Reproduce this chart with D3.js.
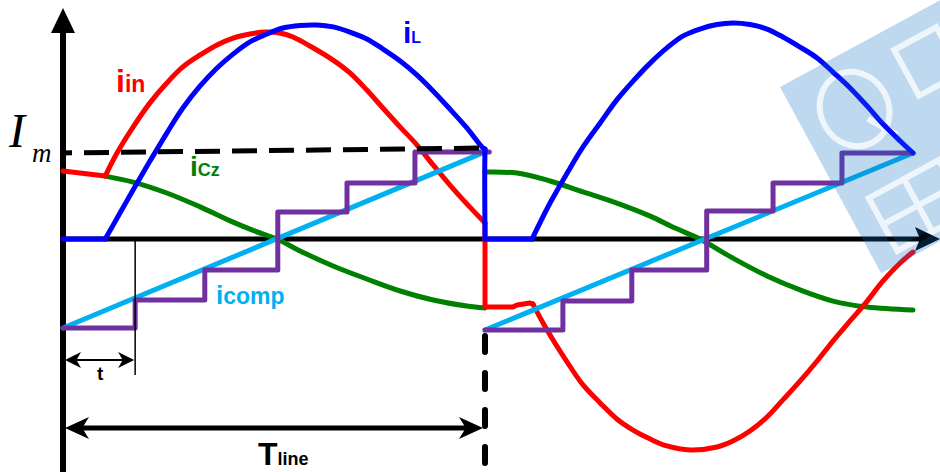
<!DOCTYPE html>
<html>
<head>
<meta charset="utf-8">
<script src="https://cdn.jsdelivr.net/npm/d3@7"></script>
<style>
  html, body { margin: 0; padding: 0; background: #fff; overflow: hidden; }
  svg { display: block; }
</style>
</head>
<body>
<svg id="chart" width="940" height="472"></svg>
<script>
// Time is measured in line periods (Tline = 1), currents are normalised to the peak of iL.

// Inductor current iL
const iLIdle1 = [[0, 0], [0.1, 0]];
const iLArc1 = [[0.1, 0], [0.135, 0.121], [0.166, 0.229], [0.206, 0.364], [0.246, 0.495], [0.284, 0.612],
  [0.325, 0.715], [0.365, 0.799], [0.403, 0.864], [0.443, 0.921], [0.483, 0.958], [0.521, 0.986],
  [0.562, 0.998], [0.602, 1.0], [0.640, 0.991], [0.680, 0.967], [0.720, 0.935], [0.758, 0.888],
  [0.799, 0.832], [0.839, 0.766], [0.877, 0.692], [0.917, 0.607], [0.957, 0.519], [0.993, 0.430], [1.0, 0.42]];
const iLReset = [[1.0, 0.42], [0.999, 0.31], [1.0, 0]];
const iLIdle2 = [[1.0, 0], [1.11, 0]];
const iLArc2 = [[1.11, 0], [1.152, 0.168], [1.192, 0.308], [1.229, 0.430], [1.269, 0.542], [1.308, 0.650],
  [1.346, 0.738], [1.386, 0.822], [1.425, 0.893], [1.463, 0.949], [1.502, 0.981], [1.542, 1.002],
  [1.579, 1.009], [1.619, 1.002], [1.659, 0.981], [1.696, 0.944], [1.736, 0.897], [1.776, 0.846],
  [1.813, 0.780], [1.853, 0.706], [1.893, 0.621], [1.930, 0.537], [1.970, 0.458], [2.0, 0.402]];

// Input current iin
const iinHold1 = [[0, 0.318], [0.1, 0.294]];
const iinArc1 = [[0.1, 0.294], [0.128, 0.402], [0.166, 0.523], [0.206, 0.636], [0.246, 0.729], [0.284, 0.804],
  [0.325, 0.860], [0.365, 0.907], [0.403, 0.939], [0.443, 0.958], [0.479, 0.967], [0.514, 0.963],
  [0.545, 0.944], [0.585, 0.902], [0.640, 0.836], [0.680, 0.776], [0.720, 0.696], [0.758, 0.612],
  [0.799, 0.523], [0.839, 0.439], [0.877, 0.346], [0.917, 0.252], [0.957, 0.164], [1.0, 0.075]];
const iinHold2 = [[1.0, 0.075], [1.0, -0.318], [1.065, -0.318], [1.075, -0.308], [1.105, -0.299], [1.112, -0.304]];
const iinArc2 = [[1.112, -0.304], [1.145, -0.425], [1.192, -0.575], [1.229, -0.682], [1.269, -0.766],
  [1.308, -0.841], [1.346, -0.893], [1.386, -0.935], [1.425, -0.967], [1.479, -0.986], [1.542, -0.972],
  [1.579, -0.944], [1.619, -0.897], [1.659, -0.832], [1.696, -0.752], [1.736, -0.664], [1.776, -0.570],
  [1.813, -0.477], [1.853, -0.383], [1.893, -0.290], [1.930, -0.196], [1.970, -0.112], [2.0, -0.061]];

// Capacitor current iCz
const iCz1 = [[0.1, 0.294], [0.166, 0.266], [0.246, 0.215], [0.325, 0.150], [0.403, 0.079], [0.455, 0.037],
  [0.507, 0], [0.562, -0.056], [0.640, -0.126], [0.720, -0.187], [0.799, -0.243], [0.877, -0.285],
  [0.957, -0.313], [1.0, -0.322]];
const iCz2 = [[1.0, 0.313], [1.075, 0.308], [1.152, 0.271], [1.229, 0.220], [1.308, 0.168], [1.386, 0.107],
  [1.444, 0.051], [1.502, 0], [1.579, -0.089], [1.659, -0.173], [1.736, -0.238], [1.813, -0.290],
  [1.893, -0.318], [2.0, -0.332]];

// Compensation ramp icomp and its sampled staircase
const icomp1 = [[0, -0.416], [1.0, 0.407]];
const icomp2 = [[1.0, -0.425], [2.0, 0.402]];
const stairEdges1 = [0, 0.171, 0.336, 0.509, 0.673, 0.834, 1.01];
const stairLevels1 = [-0.416, -0.285, -0.145, 0.126, 0.262, 0.407];
const stairEdges2 = [1.0, 1.182, 1.343, 1.518, 1.673, 1.834, 2.0];
const stairLevels2 = [-0.425, -0.290, -0.145, 0.131, 0.262, 0.402];

// Peak reference Im
const imRef = [[0, 0.402], [1.0, 0.425]];

// ---------------------------------------------------------------------------
const W = 940, H = 472;
const svg = d3.select('#chart');
const x = d3.scaleLinear().domain([0, 1, 2]).range([63, 485, 913]);
const y = d3.scaleLinear().domain([-1, 1]).range([453, 25]);

const C = { iin: '#ff0000', iL: '#0000ff', iCz: '#008000', comp: '#00b0f0', stair: '#7030a0', ink: '#000000' };

const lineOf = curve => d3.line().x(d => x(d[0])).y(d => y(d[1])).curve(curve);
const smooth = lineOf(d3.curveCatmullRom.alpha(0.5));
const straight = lineOf(d3.curveLinear);
const stepped = lineOf(d3.curveStepAfter);
const bent = lineOf(d3.curveBasis);

function trace(g, pts, gen, color, w) {
  g.append('path').attr('d', gen(pts)).attr('fill', 'none').attr('stroke', color)
    .attr('stroke-width', w).attr('stroke-linejoin', 'round').attr('stroke-linecap', 'round');
}
function stairPoints(edges, levels) {
  return edges.map((e, i) => [e, levels[Math.min(i, levels.length - 1)]]);
}

// Axes
const axes = svg.append('g');
axes.append('line').attr('x1', x(0)).attr('x2', x(0)).attr('y1', 30).attr('y2', H)
  .attr('stroke', C.ink).attr('stroke-width', 6);
axes.append('path').attr('d', `M${x(0)},8 L${x(0) - 12},33 L${x(0) + 12},33 Z`).attr('fill', C.ink);
axes.append('line').attr('x1', x(0) - 3).attr('x2', 922).attr('y1', y(0)).attr('y2', y(0))
  .attr('stroke', C.ink).attr('stroke-width', 5);
axes.append('path').attr('d', `M940,${y(0)} L915,${y(0) - 12} L920,${y(0)} L915,${y(0) + 12} Z`).attr('fill', C.ink);

// Waveforms
const waves = svg.append('g');
trace(waves, iCz1, smooth, C.iCz, 5);
trace(waves, iCz2, smooth, C.iCz, 5);
trace(waves, iinHold1, straight, C.iin, 5);
trace(waves, iinArc1, smooth, C.iin, 5);
trace(waves, iinHold2, straight, C.iin, 5);
trace(waves, iinArc2, smooth, C.iin, 5);
trace(waves, icomp1, straight, C.comp, 5);
trace(waves, icomp2, straight, C.comp, 5);
trace(waves, stairPoints(stairEdges1, stairLevels1), stepped, C.stair, 5);
trace(waves, stairPoints(stairEdges2, stairLevels2), stepped, C.stair, 5);
trace(waves, iLIdle1, straight, C.iL, 5);
trace(waves, iLArc1, smooth, C.iL, 5);
trace(waves, iLReset, bent, C.iL, 5);
trace(waves, iLIdle2, straight, C.iL, 5);
trace(waves, iLArc2, smooth, C.iL, 5);

// Im reference (dashed)
svg.append('path').attr('d', straight(imRef)).attr('fill', 'none').attr('stroke', C.ink)
  .attr('stroke-width', 5).attr('stroke-dasharray', '25 12').attr('stroke-dashoffset', 16);

// Period boundary (dashed vertical)
svg.append('line').attr('x1', x(1)).attr('x2', x(1)).attr('y1', 336).attr('y2', H + 4)
  .attr('stroke', C.ink).attr('stroke-width', 6).attr('stroke-linecap', 'round')
  .attr('stroke-dasharray', '16 21');

// Dimension arrows
function arrowHead(g, tipX, tipY, dir, len, half) {
  const b = tipX - dir * len, n = tipX - dir * len * 0.72;
  g.append('path').attr('d', `M${tipX},${tipY} L${b},${tipY - half} L${n},${tipY} L${b},${tipY + half} Z`)
    .attr('fill', C.ink);
}
const dims = svg.append('g');
// sampling interval t
const tEnd = x(stairEdges1[1]);
dims.append('line').attr('x1', tEnd).attr('x2', tEnd).attr('y1', y(0)).attr('y2', 375)
  .attr('stroke', C.ink).attr('stroke-width', 1.5);
dims.append('line').attr('x1', x(0) + 6).attr('x2', tEnd - 6).attr('y1', 360).attr('y2', 360)
  .attr('stroke', C.ink).attr('stroke-width', 2.2);
arrowHead(dims, x(0) + 2, 360, -1, 16, 8);
arrowHead(dims, tEnd - 1, 360, 1, 16, 8);
// line period Tline
dims.append('line').attr('x1', x(0) + 10).attr('x2', x(1) - 10).attr('y1', 428).attr('y2', 428)
  .attr('stroke', C.ink).attr('stroke-width', 5);
arrowHead(dims, x(0) + 2, 428, -1, 24, 11);
arrowHead(dims, x(1) - 2, 428, 1, 24, 11);

// Labels
const sans = '"Liberation Sans", Arial, sans-serif';
function label(px, py, parts, color) {
  const t = svg.append('text').attr('x', px).attr('y', py).attr('fill', color)
    .attr('font-family', sans).attr('font-weight', 'bold');
  parts.forEach(([s, size]) => t.append('tspan').attr('font-size', size).text(s));
}
label(116, 92, [['i', 32], ['in', 23]], C.iin);
label(403, 43, [['i', 30], ['L', 16]], C.iL);
label(190, 176, [['i', 28], ['Cz', 18]], C.iCz);
label(216, 304, [['i', 26], ['comp', 23]], C.comp);
label(97, 380, [['t', 19]], C.ink);
label(258, 465, [['T', 32], ['line', 18]], C.ink);

const im = svg.append('g').attr('font-family', '"Liberation Serif", "Times New Roman", serif')
  .attr('font-style', 'italic').attr('fill', C.ink);
im.append('text').attr('x', 9).attr('y', 147).attr('font-size', 48).text('I');
im.append('text').attr('x', 32).attr('y', 162).attr('font-size', 27).text('m');

// Translucent logo badge in the upper right corner
const defs = svg.append('defs');
const mask = defs.append('mask').attr('id', 'badgeMask').attr('maskUnits', 'userSpaceOnUse')
  .attr('x', 0).attr('y', 0).attr('width', W).attr('height', H);
const frame = 'translate(780,87) rotate(-28.5)';
mask.append('rect').attr('width', W).attr('height', H).attr('fill', '#fff');
const mg = mask.append('g').attr('transform', frame).attr('fill', 'none').attr('stroke', '#444').attr('stroke-width', 6);
mg.append('ellipse').attr('cx', 55).attr('cy', 55).attr('rx', 34).attr('ry', 38);
mg.append('path').attr('d', 'M62,70 L80,98');
mg.append('rect').attr('x', 118).attr('y', 22).attr('width', 48).attr('height', 52);
mg.append('rect').attr('x', 25).attr('y', 140).attr('width', 120).attr('height', 60);
mg.append('path').attr('d', 'M65,140 V200 M105,140 V200 M25,170 H145');
svg.append('g').attr('mask', 'url(#badgeMask)')
  .append('rect').attr('transform', frame).attr('x', 0).attr('y', 0).attr('width', 320).attr('height', 212)
  .attr('fill', 'rgb(14,110,200)').attr('fill-opacity', 0.27);
</script>
</body>
</html>
